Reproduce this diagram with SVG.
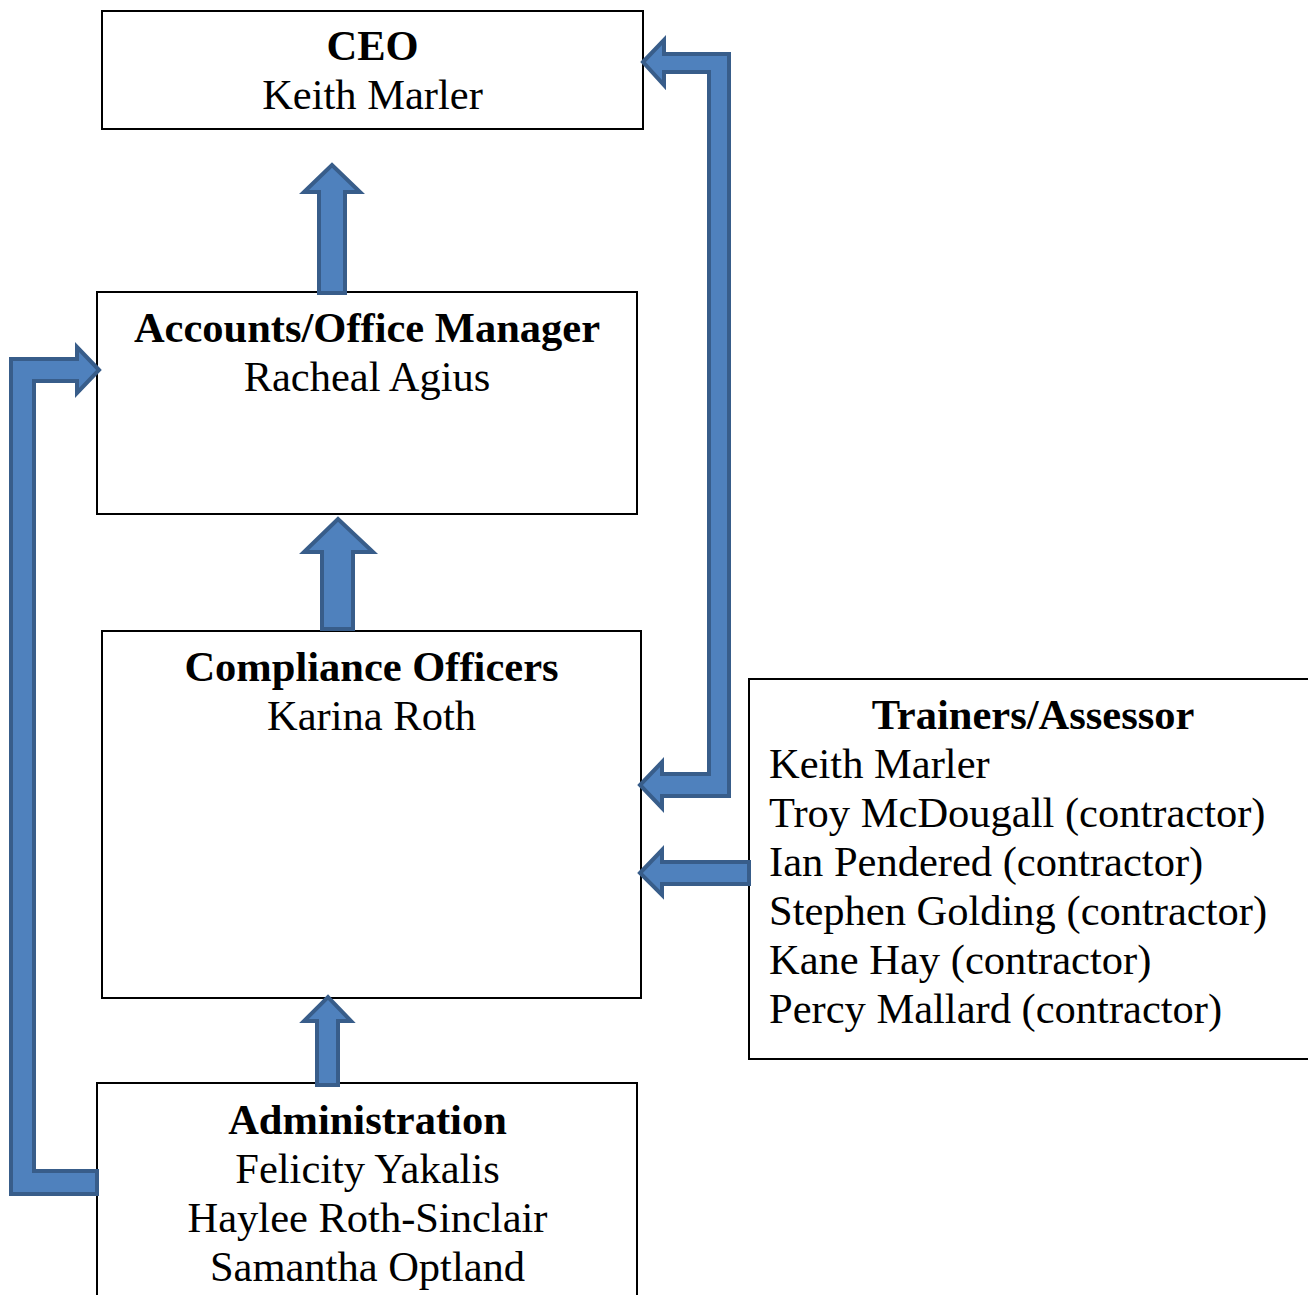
<svg xmlns="http://www.w3.org/2000/svg" width="1308" height="1295" viewBox="0 0 1308 1295">
<style>
.box{fill:#fff;stroke:#000;stroke-width:2}
.arr{fill:#4F81BD;stroke:#385D8A;stroke-width:4;stroke-linejoin:miter}
text{font-family:"Liberation Serif","Times New Roman",serif;font-size:42.5px;fill:#000}
.t{font-weight:bold}
.c{text-anchor:middle}
</style>
<rect width="1308" height="1295" fill="#fff"/>
<g id="ceo">
<rect class="box" x="102" y="11" width="541" height="118"/>
<text class="c t" x="372.5" y="60">CEO</text>
<text class="c" x="372.5" y="109">Keith Marler</text>
</g>
<g id="accounts">
<rect class="box" x="97" y="292" width="540" height="222"/>
<text class="c t" x="367" y="342">Accounts/Office Manager</text>
<text class="c" x="367" y="391">Racheal Agius</text>
</g>
<g id="compliance">
<rect class="box" x="102" y="631" width="539" height="367"/>
<text class="c t" x="371.5" y="681">Compliance Officers</text>
<text class="c" x="371.5" y="730">Karina Roth</text>
</g>
<g id="trainers">
<rect class="box" x="749" y="679" width="570" height="380"/>
<text class="c t" x="1033" y="729">Trainers/Assessor</text>
<text x="769" y="778">Keith Marler</text>
<text x="769" y="827">Troy McDougall (contractor)</text>
<text x="769" y="876">Ian Pendered (contractor)</text>
<text x="769" y="925">Stephen Golding (contractor)</text>
<text x="769" y="974">Kane Hay (contractor)</text>
<text x="769" y="1023">Percy Mallard (contractor)</text>
</g>
<g id="administration">
<rect class="box" x="97" y="1083" width="540" height="240"/>
<text class="c t" x="367.5" y="1134">Administration</text>
<text class="c" x="367.5" y="1183">Felicity Yakalis</text>
<text class="c" x="367.5" y="1232">Haylee Roth-Sinclair</text>
<text class="c" x="367.5" y="1281">Samantha Optland</text>
</g>
<g id="connectors">
<path class="arr" d="M319,293 L319,192 L304,192 L332,165 L360,192 L345,192 L345,293 Z"/>
<path class="arr" d="M322,629 L322,552 L304,552 L338,519 L373,552 L353,552 L353,629 Z"/>
<path class="arr" d="M317,1085 L317,1021 L304,1021 L328,997 L351,1021 L338,1021 L338,1085 Z"/>
<path class="arr" d="M643,62 L664,40 L664,54 L729,54 L729,796 L662,796 L662,808 L640,785 L662,762 L662,774 L709,774 L709,72 L664,72 L664,85 Z"/>
<path class="arr" d="M640,873 L662,850 L662,862 L749,862 L749,884 L662,884 L662,895 Z"/>
<path class="arr" d="M99,370 L77,347 L77,359 L11,359 L11,1194 L97,1194 L97,1171 L34,1171 L34,381 L77,381 L77,393 Z"/>
</g>
</svg>
